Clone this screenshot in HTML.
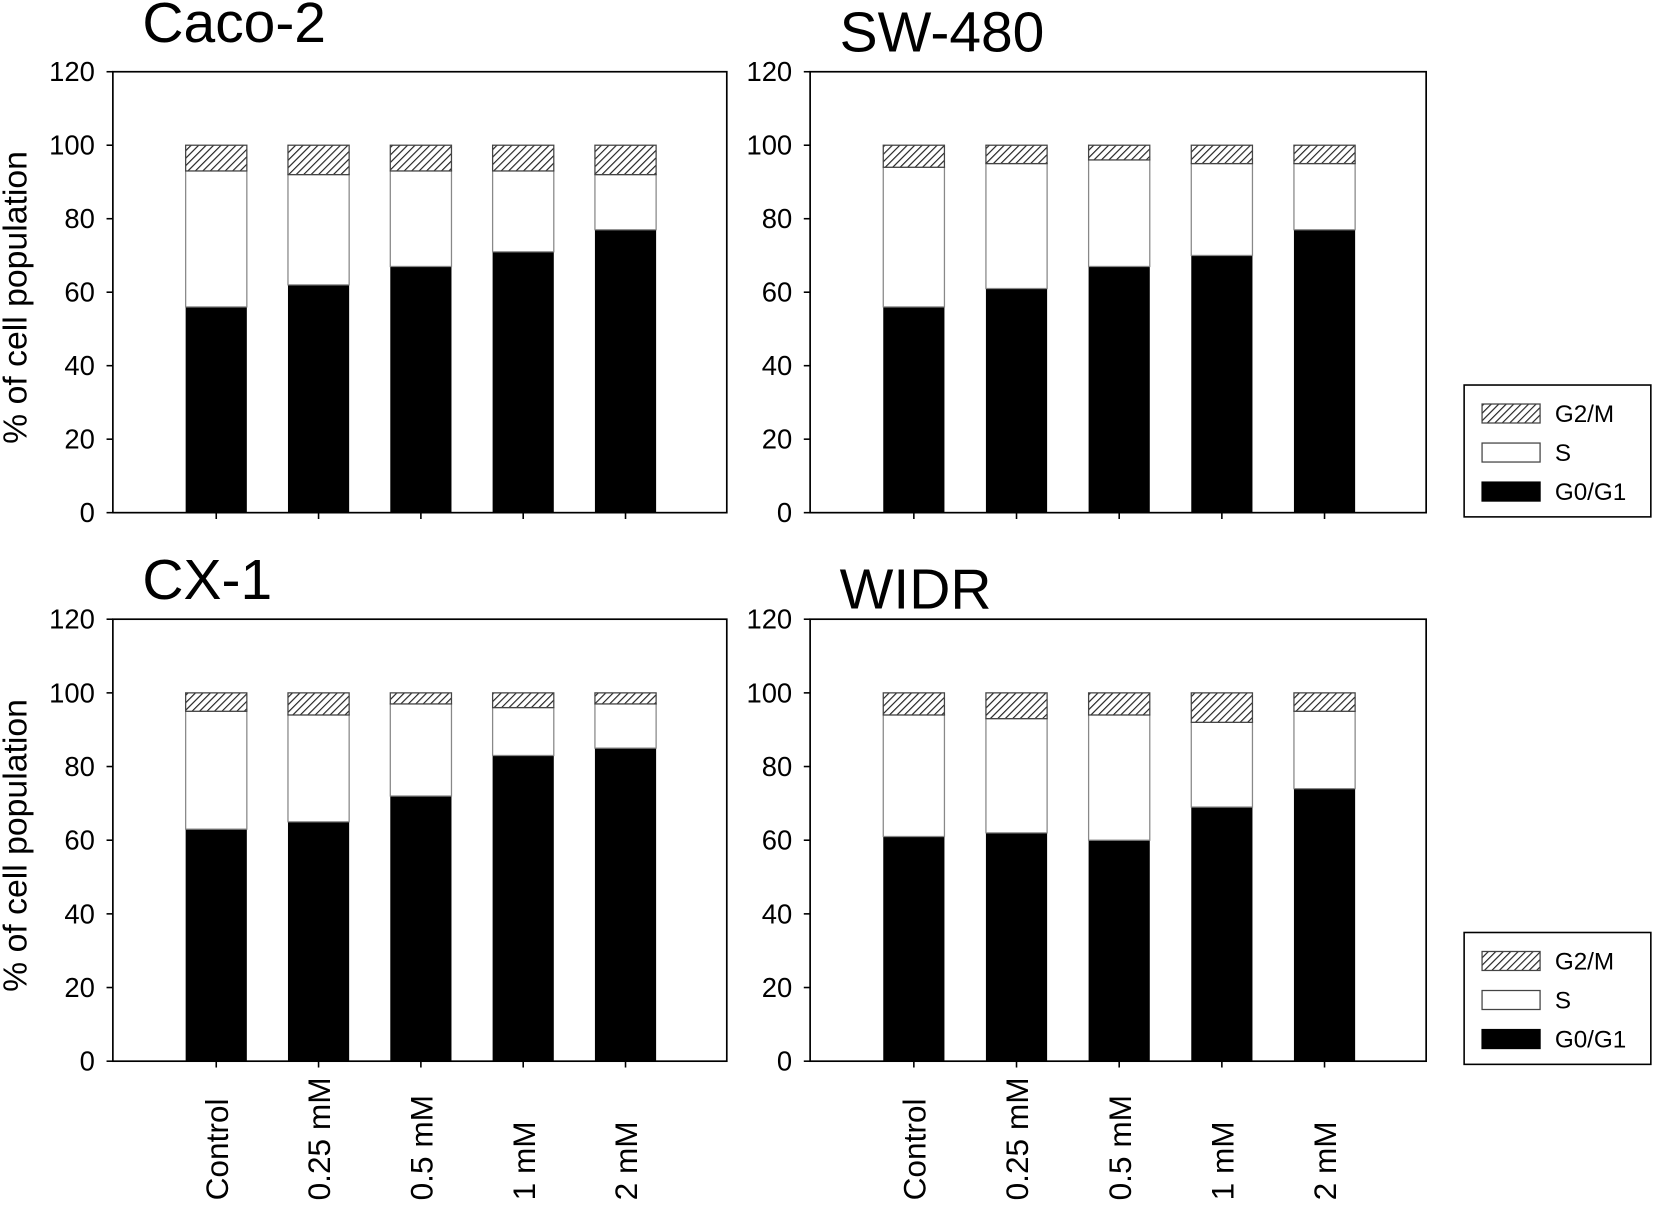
<!DOCTYPE html>
<html><head><meta charset="utf-8"><style>
html,body{margin:0;padding:0;background:#fff;}
svg{display:block;font-family:"Liberation Sans",Arial,sans-serif;}
</style></head><body>
<svg id="chart" width="1654" height="1221" viewBox="0 0 1568 1157.5" preserveAspectRatio="none" xmlns="http://www.w3.org/2000/svg">
<defs>
<pattern id="hatch" patternUnits="userSpaceOnUse" width="5" height="5" patternTransform="rotate(45)">
<rect width="5" height="5" fill="#fff"/><line x1="0" y1="0" x2="0" y2="5" stroke="#222" stroke-width="2.2"/>
</pattern>
</defs>
</svg>
<script>
const categories = ["Control","0.25 mM","0.5 mM","1 mM","2 mM"];
const panelNames = ["Caco-2","SW-480","CX-1","WIDR"];
const g0Caco = [56,62,67,71,77];
const sTopCaco = [93,92,93,93,92];
const g0SW = [56,61,67,70,77];
const sTopSW = [94,95,96,95,95];
const g0CX = [63,65,72,83,85];
const sTopCX = [95,94,97,96,97];
const g0WIDR = [61,62,60,69,74];
const sTopWIDR = [94,93,94,92,95];
const totals = [100,100,100,100,100];
const yTicks = [0,20,40,60,80,100,120];

const NS="http://www.w3.org/2000/svg";
const svg=document.getElementById('chart');
function el(tag,attrs,parent){const e=document.createElementNS(NS,tag);for(const k in attrs)e.setAttribute(k,attrs[k]);(parent||svg).appendChild(e);return e;}

const panels=[
 {name:panelNames[0],g0:g0Caco,st:sTopCaco,l:107,r:689,t:68,b:486,tx:135,ty:40,ylab:true,xlab:false,leg:false},
 {name:panelNames[1],g0:g0SW,st:sTopSW,l:768,r:1352,t:68,b:486,tx:796,ty:49,ylab:false,xlab:false,leg:true,ly:365},
 {name:panelNames[2],g0:g0CX,st:sTopCX,l:107,r:689,t:587,b:1006,tx:135,ty:568,ylab:true,xlab:true,leg:false},
 {name:panelNames[3],g0:g0WIDR,st:sTopWIDR,l:768,r:1352,t:587,b:1006,tx:796,ty:577,ylab:false,xlab:true,leg:true,ly:884}
];
panels.forEach((p,pi)=>{
 const g=el('g',{});
 
 
 const y=v=>p.b-(v/120)*(p.b-p.t);
 const step=(p.r-p.l)/6;
 const x=i=>p.l+step*(i+1)+1;
 const bw=58;
 const t=el('text',{x:p.tx,y:p.ty,'font-size':54},g);t.textContent=p.name;
 
 const fr=el('rect',{x:p.l,y:p.t,width:p.r-p.l,height:p.b-p.t,fill:'none',stroke:'#000','stroke-width':1.6},g);
 
 yTicks.forEach(v=>{
  el('line',{x1:p.l-6,x2:p.l,y1:y(v),y2:y(v),stroke:'#000','stroke-width':1.5},g);
  const tl=el('text',{x:p.l-17,y:y(v)+9,'font-size':26,'text-anchor':'end'},g);tl.textContent=v;
  
 });
 categories.forEach((c,i)=>{
  const cx=x(i);
  el('line',{x1:cx,x2:cx,y1:p.b,y2:p.b+6,stroke:'#000','stroke-width':1.5},g);
  const b1=el('rect',{x:cx-bw/2,y:y(p.g0[i]),width:bw,height:y(0)-y(p.g0[i]),fill:'#000'},g);
  
  const b2=el('rect',{x:cx-bw/2,y:y(p.st[i]),width:bw,height:y(p.g0[i])-y(p.st[i]),fill:'#fff',stroke:'#888','stroke-width':1.2},g);
  
  const b3=el('rect',{x:cx-bw/2,y:y(totals[i]),width:bw,height:y(p.st[i])-y(totals[i]),fill:'url(#hatch)',stroke:'#444','stroke-width':1.2},g);
  
  if(p.xlab){
   const xl=el('text',{x:0,y:0,'font-size':30,'text-anchor':'start',transform:`translate(${cx+11},1138) rotate(-90)`},g);
   xl.textContent=c;
   
  }
 });
 if(p.ylab){
  const yl=el('text',{x:0,y:0,'font-size':32,'text-anchor':'middle',transform:`translate(25,${(p.t+p.b)/2+5}) rotate(-90)`},g);
  yl.textContent='% of cell population';
  
 }
 if(p.leg){
  const lg=el('g',{},g);
  
  el('rect',{x:1388,y:p.ly,width:177,height:125,fill:'#fff',stroke:'#000','stroke-width':1.5},lg);
  const items=[['G2/M','url(#hatch)','#444'],['S','#fff','#444'],['G0/G1','#000','#000']];
  items.forEach((it,k)=>{
   const yy=p.ly+18+k*37;
   el('rect',{x:1405,y:yy,width:55,height:18,fill:it[1],stroke:it[2],'stroke-width':1.2},lg);
   const lt=el('text',{x:1474,y:yy+17,'font-size':23},lg);lt.textContent=it[0];
   
  });
 }
});
</script>
</body></html>
